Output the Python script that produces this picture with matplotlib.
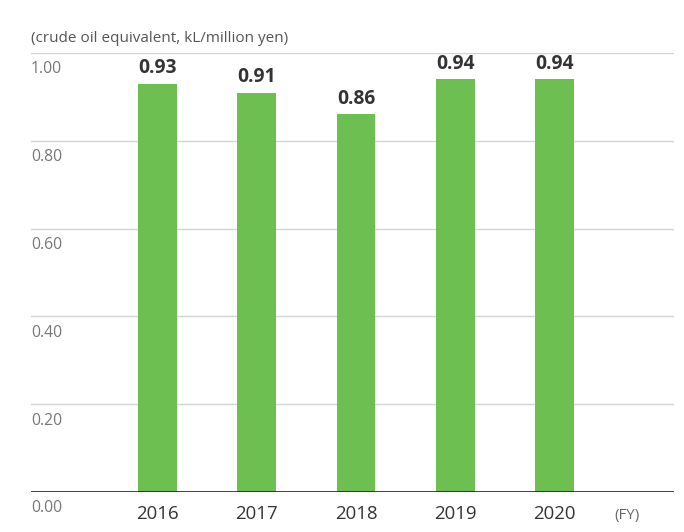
import matplotlib
matplotlib.use("Agg")
import matplotlib.pyplot as plt
from matplotlib.transforms import offset_copy

plt.rcParams['font.family'] = ['Open Sans', 'DejaVu Sans']

years = ["2016", "2017", "2018", "2019", "2020"]
values = [0.93, 0.91, 0.86, 0.94, 0.94]
yticks = [0.0, 0.2, 0.4, 0.6, 0.8, 1.0]
ytick_labels = ["0.00", "0.20", "0.40", "0.60", "0.80", "1.00"]
unit_label = "(crude oil equivalent, kL/million yen)"
x_unit = "(FY)"

W, H = 684, 532
fig = plt.figure(figsize=(W / 100, H / 100), dpi=100)
left, right, bottom, top = 31, 674, 492, 53
ax = fig.add_axes([left / W, 1 - bottom / H, (right - left) / W, (bottom - top) / H])

x = list(range(len(years)))
bar_color = "#6dbf52"
ax.bar(x, values, width=0.39, color=bar_color, zorder=3)

ax.set_xlim(-1.27, 5.2)
ax.set_ylim(0, 1.0)

for v in yticks[1:]:
    ax.axhline(v, color="#d4d4d4", lw=1, zorder=1)
ax.axhline(0, color="#222222", lw=1.2, zorder=4)

for s in ax.spines.values():
    s.set_visible(False)
ax.set_yticks([])
ax.set_xticks(x)
ax.set_xticklabels(years, fontsize=13.4, color="#333333")
ax.tick_params(axis="x", length=0, pad=9.5)

# y labels just below each gridline
for v, lab in zip(yticks, ytick_labels):
    ax.text(0.0, v, lab, transform=offset_copy(ax.get_yaxis_transform(), fig=fig, x=0, y=-6, units="points"),
            ha="left", va="top", fontsize=11.3, color="#777777")

# value labels
for xi, v in zip(x, values):
    ax.annotate(f"{v:.2f}", (xi, v), xytext=(0, 4), textcoords="offset points",
                ha="center", va="bottom", fontsize=13.9, fontweight="bold", color="#333333")

fig.text(left / W, 1 - 38 / H, unit_label, ha="left", va="center", fontsize=11.0, color="#555555")
fig.text(627 / W, 1 - 515 / H, x_unit, ha="center", va="center", fontsize=10.8, color="#666666")

fig.savefig("out.png", dpi=100)
